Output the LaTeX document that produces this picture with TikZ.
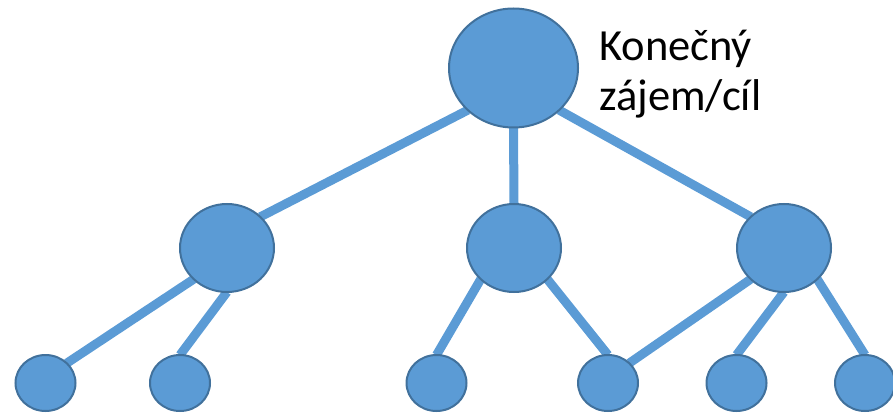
\documentclass[tikz,border=0pt]{standalone}
\usepackage{fontspec}
\setmainfont{Carlito}
\usetikzlibrary{shapes.geometric,backgrounds}
\definecolor{nodefill}{HTML}{5B9BD5}
\definecolor{nodeedge}{HTML}{41719C}
\tikzset{
  bubble/.style={ellipse, draw=nodeedge, fill=nodefill, line width=2pt, inner sep=0pt, outer sep=0pt},
  bigb/.style={bubble, minimum width=129pt, minimum height=119pt},
  midb/.style={bubble, minimum width=94pt, minimum height=88pt},
  smallb/.style={bubble, minimum width=60pt, minimum height=56pt},
  link/.style={draw=nodefill, line width=9pt},
  lbl/.style={font=\fontsize{44.5}{50}\selectfont, inner sep=0pt, anchor=base west}
}
\begin{document}
\begin{tikzpicture}[x=1pt,y=-1pt]
\useasboundingbox (0,0) rectangle (893,414);
% nodes
\node[bigb] (top) at (513.5,68) {};
\node[midb] (m1) at (227,248) {};
\node[midb] (m2) at (514,248) {};
\node[midb] (m3) at (784,248) {};
\node[smallb] (b1) at (45.5,383) {};
\node[smallb] (b2) at (180,383) {};
\node[smallb] (b3) at (436.5,383) {};
\node[smallb] (b4) at (608,383) {};
\node[smallb] (b5) at (736.5,383) {};
\node[smallb] (b6) at (865,383) {};
% connectors behind the nodes
\begin{scope}[on background layer]
\draw[link] (top.south west) -- (m1.north east);
\draw[link] (top.south) -- (m2.north);
\draw[link] (top.south east) -- (m3.north west);
\draw[link] (m1.south west) -- (b1.north east);
\draw[link] (m1.south) -- (b2.north);
\draw[link] (m2.south west) -- (b3.north);
\draw[link] (m2.south east) -- (b4.north);
\draw[link] (m3.south west) -- (b4.north east);
\draw[link] (m3.south) -- (b5.north);
\draw[link] (m3.south east) -- (b6.north);
\end{scope}
\node[lbl] (t1) at (599,61) {Konečný};
\node[lbl] (t2) at (599,111) {zájem/cíl};
\end{tikzpicture}
\end{document}
